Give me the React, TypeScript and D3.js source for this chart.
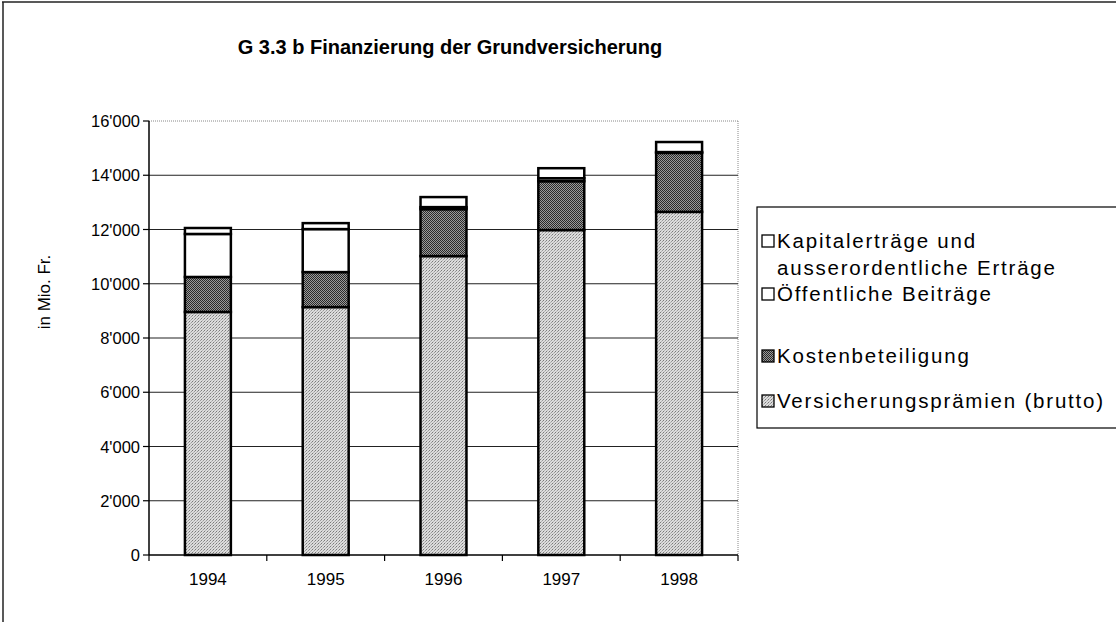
import React from 'react';
import * as d3 from 'd3';

const years = ['1994', '1995', '1996', '1997', '1998'];
const praemien = [8960, 9140, 11020, 11980, 12650];
const kosten = [1290, 1290, 1730, 1800, 2175];
const oeffentlich = [1585, 1585, 75, 110, 30];
const kapital = [220, 220, 370, 370, 370];
const yTicks = [0, 2000, 4000, 6000, 8000, 10000, 12000, 14000, 16000];

const W = 1116;
const H = 622;
const font = '"Liberation Sans", Arial, sans-serif';

const swiss = d3.formatLocale({ decimal: '.', thousands: "'", grouping: [3], currency: ['', ''] });
const fmt = swiss.format(',');

export default function App() {
  const pad = { left: 149, right: 738, top: 121, bottom: 555 };

  const x = d3.scaleBand<string>().domain(years).range([pad.left, pad.right]);
  const y = d3.scaleLinear().domain([0, 16000]).range([pad.bottom, pad.top]);

  const rows = years.map((yr, i) => ({
    year: yr,
    p: praemien[i],
    k: kosten[i],
    o: oeffentlich[i],
    c: kapital[i],
  }));
  const stack = d3.stack<any>().keys(['p', 'k', 'o', 'c'])(rows);
  const fills = ['url(#light)', 'url(#dark)', '#fff', '#fff'];
  const barW = x.bandwidth() * 0.39;

  // legend rows, top to bottom
  const legend = [
    { lines: ['Kapitalerträge und', 'ausserordentliche Erträge'], fill: '#fff', y: 241 },
    { lines: ['Öffentliche Beiträge'], fill: '#fff', y: 294 },
    { lines: ['Kostenbeteiligung'], fill: 'url(#dark)', y: 356 },
    { lines: ['Versicherungsprämien (brutto)'], fill: 'url(#light)', y: 401 },
  ];

  const boundaries = [...years.map((yr) => x(yr)!), pad.right];

  return (
    <svg width={W} height={H} style={{ position: 'absolute', left: 0, top: 0, background: '#fff' }}>
      <defs>
        <pattern id="light" width="3" height="3" patternUnits="userSpaceOnUse">
          <rect width="3" height="3" fill="#dcdcdc" />
          <rect x="0" y="0" width="1" height="1" fill="#7a7a7a" />
          <rect x="2" y="1" width="1" height="1" fill="#9a9a9a" />
          <rect x="1" y="2" width="1" height="1" fill="#b4b4b4" />
        </pattern>
        <pattern id="dark" width="2" height="2" patternUnits="userSpaceOnUse">
          <rect width="2" height="2" fill="#9a9a9a" />
          <rect x="0" y="0" width="1" height="1" fill="#2a2a2a" />
          <rect x="1" y="1" width="1" height="1" fill="#2a2a2a" />
        </pattern>
      </defs>

      {/* outer frame */}
      <line x1={2} y1={2} x2={W} y2={2} stroke="#222" strokeWidth={1.5} />
      <line x1={3} y1={2} x2={3} y2={H} stroke="#222" strokeWidth={1.5} />

      <text x={450} y={54} textAnchor="middle" fontFamily={font} fontWeight="bold" fontSize={20}>
        G 3.3 b  Finanzierung der Grundversicherung
      </text>

      {/* plot border (dotted) */}
      <line x1={pad.left} y1={y(16000)} x2={pad.right} y2={y(16000)} stroke="#888" strokeDasharray="1,1" />
      <line x1={pad.right} y1={y(16000)} x2={pad.right} y2={pad.bottom} stroke="#888" strokeDasharray="1,1" />

      {/* gridlines */}
      {yTicks.filter((t) => t > 0 && t < 16000).map((t) => (
        <line key={t} x1={pad.left} x2={pad.right} y1={y(t)} y2={y(t)} stroke="#222" strokeWidth={1.2} />
      ))}

      {/* bars */}
      {stack.map((layer, li) =>
        layer.map((d, i) => (
          <rect
            key={`${li}-${i}`}
            x={x(years[i])! + (x.bandwidth() - barW) / 2}
            y={y(d[1])}
            width={barW}
            height={y(d[0]) - y(d[1])}
            fill={fills[li]}
            stroke="#000"
            strokeWidth={2.5}
          />
        ))
      )}

      {/* y axis */}
      <line x1={pad.left} y1={pad.top} x2={pad.left} y2={pad.bottom} stroke="#000" strokeWidth={1.5} />
      {yTicks.map((t) => (
        <g key={t}>
          <line x1={pad.left - 6} x2={pad.left} y1={y(t)} y2={y(t)} stroke="#000" strokeWidth={1.2} />
          <text x={pad.left - 9} y={y(t) + 6} textAnchor="end" fontFamily={font} fontSize={16.5}>
            {fmt(t)}
          </text>
        </g>
      ))}
      <text
        transform={`translate(50,${(pad.top + pad.bottom) / 2 - 46}) rotate(-90)`}
        textAnchor="middle"
        fontFamily={font}
        fontSize={17}
      >
        in Mio. Fr.
      </text>

      {/* x axis */}
      <line x1={pad.left} y1={pad.bottom} x2={pad.right} y2={pad.bottom} stroke="#000" strokeWidth={1.5} />
      {boundaries.map((bx, i) => (
        <line key={i} x1={bx} x2={bx} y1={pad.bottom} y2={pad.bottom + 6} stroke="#000" strokeWidth={1.2} />
      ))}
      {years.map((yr) => (
        <text key={yr} x={x(yr)! + x.bandwidth() / 2} y={585} textAnchor="middle" fontFamily={font} fontSize={17}>
          {yr}
        </text>
      ))}

      {/* legend */}
      <rect x={757} y={207} width={W} height={221} fill="#fff" stroke="#000" strokeWidth={1.2} />
      {legend.map((l, i) => (
        <g key={i}>
          <rect x={762} y={l.y - 6} width={12} height={12} fill={l.fill} stroke="#000" strokeWidth={1.3} />
          {l.lines.map((ln, j) => (
            <text key={j} x={777} y={l.y + 7 + j * 27} fontFamily={font} fontSize={20.5} letterSpacing={1.8}>
              {ln}
            </text>
          ))}
        </g>
      ))}
    </svg>
  );
}
